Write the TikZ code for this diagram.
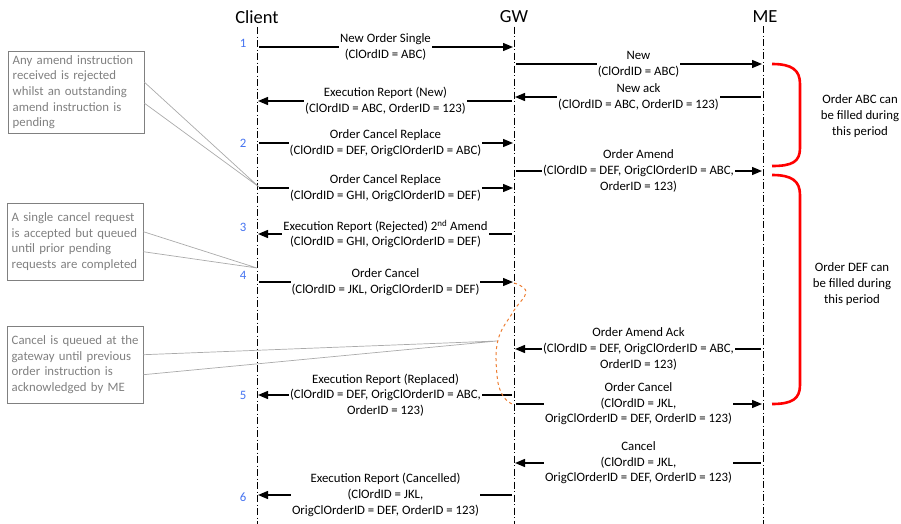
\documentclass[tikz,border=0pt]{standalone}
\usepackage{fontspec}
\setmainfont{Carlito}
\usetikzlibrary{arrows.meta,calc}
\definecolor{numbleu}{RGB}{68,114,240}
\definecolor{notegris}{RGB}{128,128,128}
\definecolor{cadregris}{RGB}{170,170,170}
\definecolor{orangeq}{RGB}{237,125,49}

\begin{document}
\begin{tikzpicture}[x=1pt,y=-1pt,font=\fontsize{12.8}{15.6}\selectfont,
	vie/.style={black,line width=0.9pt,dash pattern=on 7pt off 2.5pt on 1pt off 2.5pt},
	msg/.style={-{Triangle[length=10pt,width=8pt]},line width=1.3pt,shorten <=2pt,shorten >=1pt},
	lbl/.style={midway,fill=white,align=center,inner xsep=1pt,inner ysep=0pt},
	tete/.style={font=\fontsize{18.5}{22}\selectfont},
	num/.style={numbleu},
	note/.style={draw=cadregris,notegris,anchor=north west,align=left,text width=127pt,inner xsep=4.5pt},
	callout/.style={cadregris,line width=0.7pt},
	periode/.style={red,line width=2.6pt},
	attente/.style={orangeq,line width=1pt,dashed}]
					\useasboundingbox (0,0) rectangle (901,524);
					
					%% acteurs et lignes de vie
					\node[tete] (client) at (257,17) {Client};
					\node[tete] (gw) at (514,17) {GW};
					\node[tete] (me) at (765,17) {ME};
					\coordinate (clientbas) at (257,524);
					\coordinate (gwbas) at (514,524);
					\coordinate (mebas) at (763,524);
					\draw[vie] (client.south) -- (clientbas);
					\draw[vie] (gw.south) -- (gwbas);
					\draw[vie] (me.south -| mebas) -- (mebas);
					
					%% points des messages sur les lignes de vie
					\foreach \i/\y in {1/47,2/64,3/97,4/101,5/143,6/171,7/188,8/234,9/282,10/349,11/395,12/404,13/463,14/495}{
						\coordinate (c\i) at (257,\y);
						\coordinate (g\i) at (514,\y);
						\coordinate (m\i) at (763,\y);
					}
					
					%% numeros
					\foreach \n/\y in {1/43,2/143,3/227,4/275,5/395,6/497}
					\node[num] (num\n) at (243,\y) {\n};
					
					%% messages
					\draw[msg] (c1) -- (g1) node[lbl] (l1) {New Order Single\\(ClOrdID = ABC)};
					\draw[msg] (g2) -- (m2) node[lbl] (l2) {New\\(ClOrdID = ABC)};
					\draw[msg] (m3) -- (g3) node[lbl] (l3) {New ack\\(ClOrdID = ABC, OrderID = 123)};
					\draw[msg] (g4) -- (c4) node[lbl] (l4) {Execution Report (New)\\(ClOrdID = ABC, OrderID = 123)};
					\draw[msg] (c5) -- (g5) node[lbl] (l5) {Order Cancel Replace\\(ClOrdID = DEF, OrigClOrderID = ABC)};
					\draw[msg] (g6) -- (m6) node[lbl] (l6) {Order Amend\\(ClOrdID = DEF, OrigClOrderID = ABC,\\OrderID = 123)};
					\draw[msg] (c7) -- (g7) node[lbl] (l7) {Order Cancel Replace\\(ClOrdID = GHI, OrigClOrderID = DEF)};
					\draw[msg] (g8) -- (c8) node[lbl] (l8) {Execution Report (Rejected) 2\textsuperscript{nd} Amend\\(ClOrdID = GHI, OrigClOrderID = DEF)};
					\draw[msg] (c9) -- (g9) node[lbl] (l9) {Order Cancel\\(ClOrdID = JKL, OrigClOrderID = DEF)};
					\draw[msg] (m10) -- (g10) node[lbl] (l10) {Order Amend Ack\\(ClOrdID = DEF, OrigClOrderID = ABC,\\OrderID = 123)};
					\draw[msg] (g11) -- (c11) node[lbl] (l11) {Execution Report (Replaced)\\(ClOrdID = DEF, OrigClOrderID = ABC,\\OrderID = 123)};
					\draw[msg] (g12) -- (m12) node[lbl] (l12) {Order Cancel\\(ClOrdID = JKL,\\OrigClOrderID = DEF, OrderID = 123)};
					\draw[msg] (m13) -- (g13) node[lbl] (l13) {Cancel\\(ClOrdID = JKL,\\OrigClOrderID = DEF, OrderID = 123)};
					\draw[msg] (g14) -- (c14) node[lbl] (l14) {Execution Report (Cancelled)\\(ClOrdID = JKL,\\OrigClOrderID = DEF, OrderID = 123)};
					
					%% attente au gateway
					\draw[attente] plot[smooth,tension=0.7] coordinates {(514,283) (526,292) (513,312) (498,340) (497,375) (503,396) (514,405)};
					
					%% periodes
					\draw[periode] (772,64) .. controls (792,64) and (800,70) .. (800,84) -- (800,148) .. controls (800,162) and (792,166) .. (772,166);
					\draw[periode] (772,175) .. controls (792,175) and (800,181) .. (800,195) -- (800,385) .. controls (800,399) and (792,404) .. (772,404);
					\node[align=center] (abc) at (860,116) {Order ABC can\\be filled during\\this period};
					\node[align=center] (def) at (852,284) {Order DEF can\\be filled during\\this period};
					
					%% notes
					\node[note,minimum height=82pt] (note1) at (8,51) {Any amend instruction\\received is rejected\\whilst an outstanding\\amend instruction is\\pending};
					\node[note,minimum height=77pt] (note2) at (7,203) {A single cancel request\\is accepted but queued\\until prior pending\\requests are completed};
					\node[note,minimum height=77pt] (note3) at (7,326) {Cancel is queued at the\\gateway until previous\\order instruction is\\acknowledged by ME};
					\coordinate (pointe1) at (259,187);
					\coordinate (pointe2) at (257,268);
					\coordinate (pointe3) at (497,341);
					\draw[callout] ($(note1.east)+(0,-10)$) -- (pointe1) -- ($(note1.east)+(0,11)$);
					\draw[callout] ($(note2.east)+(0,-10)$) -- (pointe2) -- ($(note2.east)+(0,10)$);
					\draw[callout] ($(note3.east)+(0,-10)$) -- (pointe3) -- ($(note3.east)+(0,10)$);
				\end{tikzpicture}
\end{document}
